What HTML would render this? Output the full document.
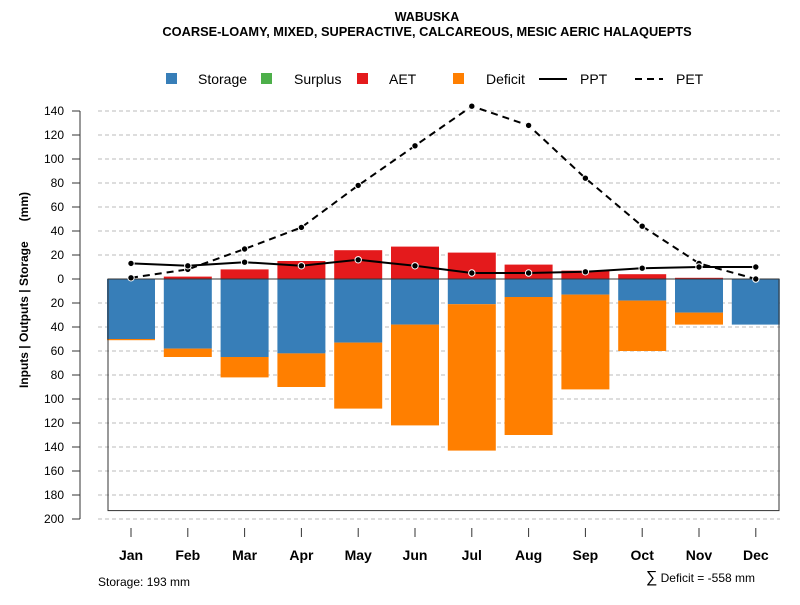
<!DOCTYPE html>
<html><head><meta charset="utf-8"><style>
body{margin:0;background:#fff;font-family:"Liberation Sans",sans-serif}
svg text{font-family:"Liberation Sans",sans-serif}
</style></head><body>
<svg id="c" width="800" height="600" xmlns="http://www.w3.org/2000/svg">
<text x="427" y="21" text-anchor="middle" font-size="12.5" font-weight="bold">WABUSKA</text>
<text x="427" y="36" text-anchor="middle" font-size="12.8" font-weight="bold">COARSE-LOAMY, MIXED, SUPERACTIVE, CALCAREOUS, MESIC AERIC HALAQUEPTS</text>
<text transform="translate(28,290) rotate(-90)" text-anchor="middle" font-size="12" font-weight="bold" style="white-space:pre">Inputs | Outputs | Storage      (mm)</text>
<g id="grid"></g><g id="bars"></g><g id="lines"></g><g id="axes"></g>
<g>
<rect x="166" y="73" width="11" height="11" fill="#377eb8"/>
<text x="198" y="84" font-size="14">Storage</text>
<rect x="261" y="73" width="11" height="11" fill="#4daf4a"/>
<text x="294" y="84" font-size="14">Surplus</text>
<rect x="357" y="73" width="11" height="11" fill="#e41a1c"/>
<text x="389" y="84" font-size="14">AET</text>
<rect x="453" y="73" width="11" height="11" fill="#ff7f00"/>
<text x="486" y="84" font-size="14">Deficit</text>
<line x1="539" y1="79" x2="567" y2="79" stroke="#000" stroke-width="2"/>
<text x="580" y="84" font-size="14">PPT</text>
<line x1="635" y1="79" x2="663" y2="79" stroke="#000" stroke-width="2" stroke-dasharray="7,5"/>
<text x="676" y="84" font-size="14">PET</text>
</g>
<text x="98" y="586" font-size="12">Storage: 193 mm</text>
<text x="755" y="582" text-anchor="end" font-size="12"><tspan font-size="16">∑</tspan> Deficit = -558 mm</text>
</svg>
<script>
const months=["Jan","Feb","Mar","Apr","May","Jun","Jul","Aug","Sep","Oct","Nov","Dec"];
const storage=[50,58,65,62,53,38,21,15,13,18,28,38];
const deficit=[1,7,17,28,55,84,122,115,79,42,10,0];
const aet=[0,2,8,15,24,27,22,12,7,4,1,0];
const ppt=[13,11,14,11,16,11,5,5,6,9,10,10];
const pet=[1,8,25,43,78,111,144,128,84,44,13,0];
const yTicks=[140,120,100,80,60,40,20,0,-20,-40,-60,-80,-100,-120,-140,-160,-180,-200];
const storageMax=193;
const NS="http://www.w3.org/2000/svg";
const y=v=>279-v*1.2;
const x=i=>131+i*56.8;
function mk(p,t,a){const e=document.createElementNS(NS,t);for(const k in a)e.setAttribute(k,a[k]);document.getElementById(p).appendChild(e);return e;}
yTicks.forEach(v=>{
 if(v!==0){const g=mk('grid','line',{x1:98,x2:780,y1:y(v),y2:y(v),stroke:'#bbb','stroke-dasharray':'4,3'});
 
 }
 const t=mk('axes','line',{x1:72,x2:80,y1:y(v),y2:y(v),stroke:'#333'});
 
 
 const l=mk('axes','text',{x:64,y:y(v)+4,'text-anchor':'end','font-size':12});l.textContent=Math.abs(v);
 
 
});
const ax=mk('axes','line',{x1:80,x2:80,y1:y(140),y2:y(-200),stroke:'#333'});


const bw=48;
months.forEach((m,i)=>{
 const s=mk('bars','rect',{x:x(i)-bw/2,y:y(0),width:bw,height:storage[i]*1.2,fill:'#377eb8'});
 
 
 const d=mk('bars','rect',{x:x(i)-bw/2,y:y(-storage[i]),width:bw,height:deficit[i]*1.2,fill:'#ff7f00'});
 
 
 const a=mk('bars','rect',{x:x(i)-bw/2,y:y(aet[i]),width:bw,height:aet[i]*1.2,fill:'#e41a1c'});
 
 
 const t=mk('axes','line',{x1:x(i),x2:x(i),y1:528,y2:537,stroke:'#333'});
 
 
 const l=mk('axes','text',{x:x(i),y:560,'text-anchor':'middle','font-size':14,'font-weight':'bold'});l.textContent=m;
 
 
});
const box=mk('bars','rect',{x:108,y:y(0),width:671,height:storageMax*1.2,fill:'none',stroke:'#333'});


function series(arr,name,dash){
 const p=mk('lines','polyline',{points:arr.map((v,i)=>x(i)+','+y(v)).join(' '),fill:'none',stroke:'#000','stroke-width':2,'stroke-dasharray':dash});
 
 
 arr.forEach((v,i)=>{const c=mk('lines','circle',{cx:x(i),cy:y(v),r:3.2,fill:'#000',stroke:'#fff','stroke-width':1});
 
 });
}
series(pet,'pet','7,5');
series(ppt,'ppt','none');
</script>
</body></html>
